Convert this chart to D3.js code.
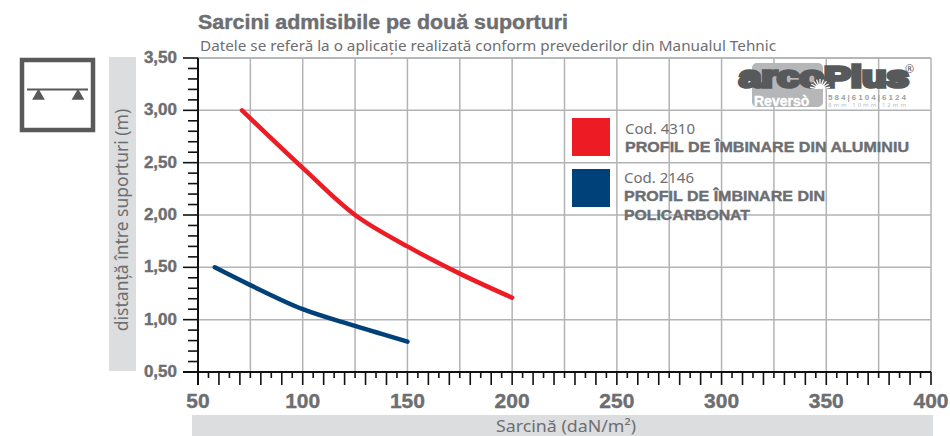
<!DOCTYPE html>
<html>
<head>
<meta charset="utf-8">
<script src="https://cdn.jsdelivr.net/npm/d3@7"></script>
<style>
html, body { margin: 0; padding: 0; background: #fff; }
svg { display: block; }
text { fill: #6d6e71; }
.bold { font-family: "Liberation Sans", sans-serif; font-weight: 700; stroke: #6d6e71; stroke-width: 0.4px; }
.thin { font-family: "Noto Sans", sans-serif; }
</style>
</head>
<body>
<svg id="chart" width="950" height="436"></svg>
<script>
// valori
const aluLoad = [71, 100, 125, 150, 175, 200];
const aluSpan = [3.0, 2.45, 2.0, 1.7, 1.44, 1.21];
const pcLoad = [58, 75, 100, 125, 150];
const pcSpan = [1.5, 1.33, 1.1, 0.94, 0.79];
const xTicks = [50, 100, 150, 200, 250, 300, 350, 400];
const yTicks = [0.5, 1, 1.5, 2, 2.5, 3, 3.5];
const xGrid = d3.range(50, 401, 25);
const xMinor = d3.range(50, 401, 5);
const yMinor = d3.range(5, 36).map(d => d / 10);

const plotLeft = 198, plotRight = 931, plotTop = 58, plotBottom = 372;
const svg = d3.select("#chart");
const x = d3.scaleLinear().domain([50, 400]).range([plotLeft, plotRight]);
const y = d3.scaleLinear().domain([0.5, 3.5]).range([plotBottom, plotTop]);
const comma = d => d3.format(".2f")(d).replace(".", ",");

// benzile gri ale titlurilor de axe
svg.append("rect").attr("x", 109).attr("y", 57).attr("width", 27).attr("height", 314).attr("fill", "#dcddde");
svg.append("rect").attr("x", 192).attr("y", 415).attr("width", 741).attr("height", 21).attr("fill", "#dcddde");

// grila
const grid = svg.append("g").attr("stroke", "#b1b3b5").attr("stroke-width", 1.5);
grid.selectAll("line.v").data(xGrid.slice(1)).join("line").attr("class", "v")
    .attr("x1", d => x(d)).attr("x2", d => x(d)).attr("y1", plotTop).attr("y2", plotBottom);
grid.selectAll("line.h").data(yTicks.slice(1)).join("line").attr("class", "h")
    .attr("x1", plotLeft).attr("x2", plotRight).attr("y1", d => y(d)).attr("y2", d => y(d));

// logo, peste grila
const logo = svg.append("g");
logo.append("rect").attr("x", 752).attr("y", 63).attr("width", 71).attr("height", 44).attr("rx", 5).attr("fill", "#b5b6b8");
logo.append("text").attr("class", "bold").attr("x", 739).attr("y", 87)
    .attr("textLength", 170).attr("lengthAdjust", "spacingAndGlyphs")
    .style("font-size", "30px").style("fill", "#58595b").style("stroke", "#58595b").style("stroke-width", "3.5px")
    .text("arcoPlus");
// soarele din logo
const rays = d3.range(-80, 81, 20);
logo.append("g").attr("transform", "translate(820,89)").attr("stroke", "#fff").attr("stroke-width", 1.3)
    .selectAll("line").data(rays).join("line")
    .attr("y1", -4).attr("y2", -10).attr("transform", d => `rotate(${d})`);
logo.append("path").attr("transform", "translate(820,89)").attr("fill", "#fff")
    .attr("d", d3.arc()({innerRadius: 0, outerRadius: 5, startAngle: -Math.PI / 2, endAngle: Math.PI / 2}));
logo.append("text").attr("x", 905).attr("y", 73).attr("class", "thin").style("font-size", "11px").style("fill", "#58595b").text("®");
logo.append("text").attr("class", "bold").attr("x", 754).attr("y", 106).style("font-size", "14px").style("fill", "#fff").style("stroke", "#fff").text("Reversò");
logo.append("text").attr("class", "bold").attr("x", 828).attr("y", 100).attr("textLength", 78).style("font-size", "8px").style("fill", "#9d9fa2").style("stroke", "none").text("584|6104|6124");
logo.append("text").attr("x", 828).attr("y", 107).attr("textLength", 78).attr("class", "thin").style("font-size", "6px").style("fill", "#bcbec0").text("8mm   10mm  12mm");

// curbele
const line = d3.line().x(d => x(d[0])).y(d => y(d[1])).curve(d3.curveCatmullRom);
svg.append("path").attr("d", line(d3.zip(aluLoad, aluSpan)))
    .attr("fill", "none").attr("stroke", "#ed1c24").attr("stroke-width", 4.5).attr("stroke-linecap", "round");
svg.append("path").attr("d", line(d3.zip(pcLoad, pcSpan)))
    .attr("fill", "none").attr("stroke", "#004179").attr("stroke-width", 4.5).attr("stroke-linecap", "round");

// axe
const ax = svg.append("g").attr("stroke", "#111").attr("stroke-width", 1.6);
ax.append("line").attr("x1", plotLeft).attr("x2", plotLeft).attr("y1", plotTop).attr("y2", plotBottom + 13).attr("stroke-width", 2);
ax.append("line").attr("x1", 183).attr("x2", plotRight).attr("y1", plotBottom).attr("y2", plotBottom).attr("stroke-width", 2);
ax.selectAll("line.ty").data(yMinor).join("line").attr("class", "ty")
    .attr("x1", d => Math.round(d * 10) % 5 === 0 ? 183 : 188).attr("x2", plotLeft)
    .attr("y1", d => y(d)).attr("y2", d => y(d));
ax.selectAll("line.tx").data(xMinor).join("line").attr("class", "tx")
    .attr("x1", d => x(d)).attr("x2", d => x(d)).attr("y1", plotBottom)
    .attr("y2", d => plotBottom + (d % 10 === 0 ? 13 : 6));

// chenar gri sus
grid.append("line").attr("x1", plotLeft).attr("x2", plotRight).attr("y1", plotTop).attr("y2", plotTop);

// etichete axe
svg.selectAll("text.ylab").data(yTicks).join("text").attr("class", "ylab bold")
    .attr("x", 177).attr("y", d => y(d) + 5).attr("text-anchor", "end")
    .style("font-size", "17px").text(comma);
svg.selectAll("text.xlab").data(xTicks).join("text").attr("class", "xlab bold")
    .attr("x", d => x(d)).attr("y", 408).attr("text-anchor", "middle")
    .style("font-size", "21px").text(d => d);

// titluri
svg.append("text").attr("class", "bold").attr("x", 198).attr("y", 29).attr("textLength", 370).attr("lengthAdjust", "spacingAndGlyphs")
    .style("font-size", "20px").text("Sarcini admisibile pe două suporturi");
svg.append("text").attr("class", "thin").attr("x", 200).attr("y", 51).style("font-size", "13.5px")
    .attr("textLength", 576).attr("lengthAdjust", "spacingAndGlyphs")
    .text("Datele se referă la o aplicație realizată conform prevederilor din Manualul Tehnic");
svg.append("text").attr("class", "thin").attr("x", 566).attr("y", 432).attr("text-anchor", "middle").attr("textLength", 140).attr("lengthAdjust", "spacingAndGlyphs").style("font-size", "16px").text("Sarcină (daN/m²)");
svg.append("text").attr("class", "thin").attr("transform", "translate(128,220) rotate(-90)").attr("text-anchor", "middle")
    .style("font-size", "17.5px").text("distanță între suporturi (m)");

// legenda
svg.append("rect").attr("x", 572).attr("y", 118).attr("width", 38).attr("height", 38).attr("fill", "#ed1c24");
svg.append("rect").attr("x", 572).attr("y", 169).attr("width", 38).attr("height", 38).attr("fill", "#004179");
svg.append("text").attr("class", "thin").attr("x", 625).attr("y", 134).style("font-size", "15px").text("Cod. 4310");
svg.append("text").attr("class", "bold").attr("x", 625).attr("y", 152).attr("textLength", 284).attr("lengthAdjust", "spacingAndGlyphs").style("font-size", "15px").text("PROFIL DE ÎMBINARE DIN ALUMINIU");
svg.append("text").attr("class", "thin").attr("x", 624).attr("y", 183).style("font-size", "15px").text("Cod. 2146");
svg.append("text").attr("class", "bold").attr("x", 624).attr("y", 201).attr("textLength", 201).attr("lengthAdjust", "spacingAndGlyphs").style("font-size", "15px").text("PROFIL DE ÎMBINARE DIN");
svg.append("text").attr("class", "bold").attr("x", 624).attr("y", 220).attr("textLength", 126).attr("lengthAdjust", "spacingAndGlyphs").style("font-size", "15px").text("POLICARBONAT");

// pictograma cu doua reazeme
const icon = svg.append("g").attr("fill", "#58595b");
icon.append("rect").attr("x", 22).attr("y", 60).attr("width", 71).attr("height", 70)
    .attr("fill", "none").attr("stroke", "#58595b").attr("stroke-width", 4.5);
icon.append("rect").attr("x", 27).attr("y", 88.5).attr("width", 61).attr("height", 2);
icon.append("path").attr("d", d3.symbol(d3.symbolTriangle, 70)).attr("transform", "translate(38.5,96)");
icon.append("path").attr("d", d3.symbol(d3.symbolTriangle, 70)).attr("transform", "translate(78,96)");
</script>
</body>
</html>
